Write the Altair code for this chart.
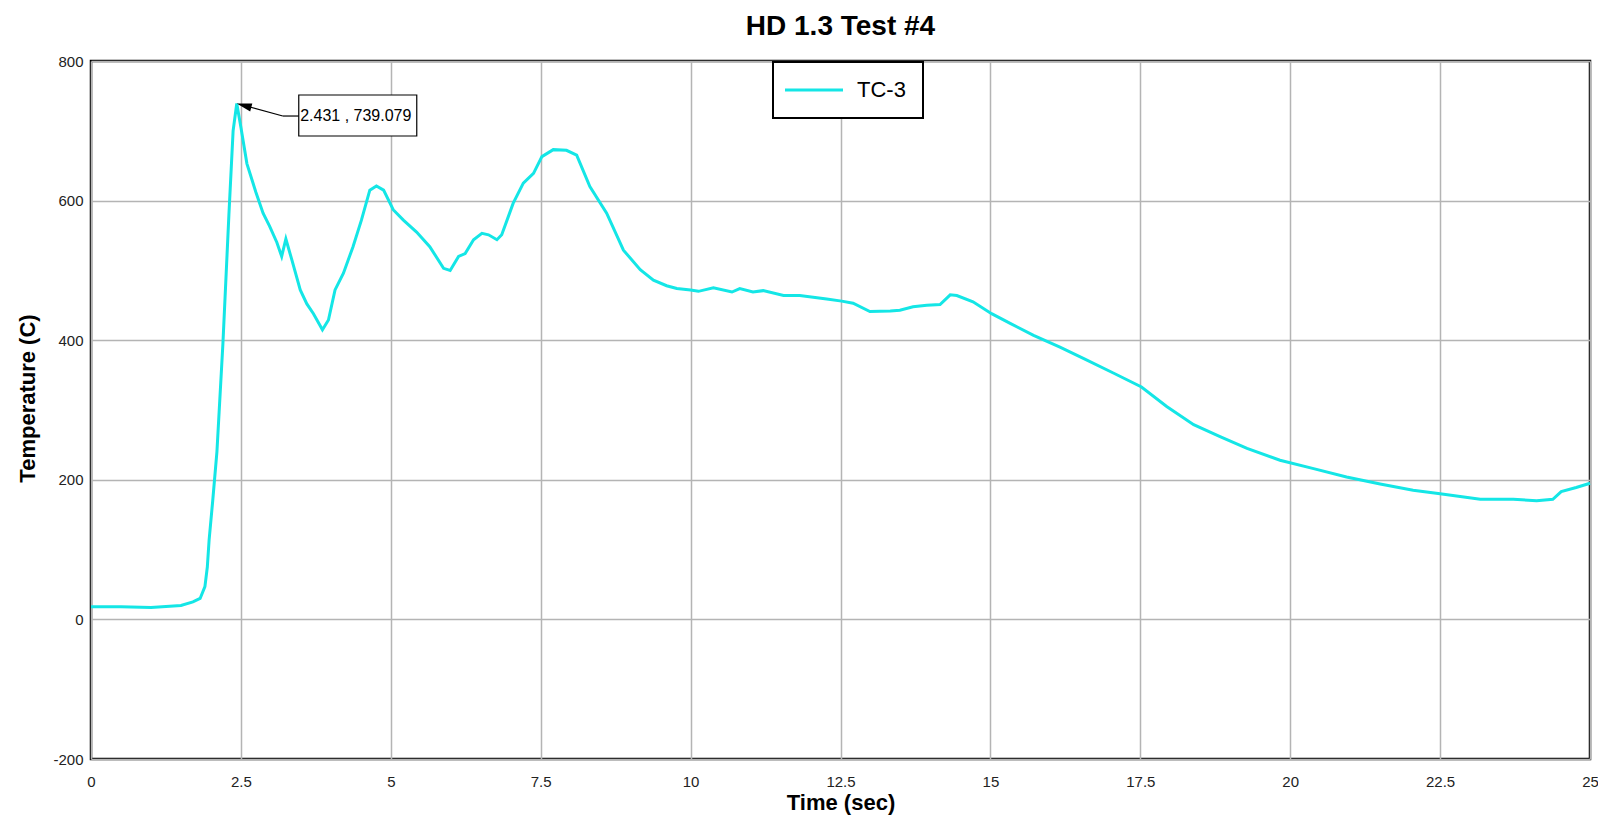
import altair as alt
import pandas as pd

# ---- data ----
time_sec = [0, 0.5, 1.0, 1.5, 1.7, 1.82, 1.9, 1.94, 1.97, 2.03, 2.1, 2.2, 2.3, 2.37, 2.431,
            2.5, 2.6, 2.75, 2.87, 2.98, 3.1, 3.18, 3.25, 3.35, 3.49, 3.6, 3.71, 3.86, 3.96,
            4.07, 4.21, 4.37, 4.51, 4.65, 4.76, 4.88, 5.04, 5.21, 5.43, 5.65, 5.88, 5.99,
            6.13, 6.24, 6.38, 6.52, 6.63, 6.77, 6.85, 7.04, 7.21, 7.38, 7.52, 7.71, 7.93,
            8.1, 8.32, 8.6, 8.88, 9.16, 9.38, 9.6, 9.77, 10.0, 10.13, 10.38, 10.69, 10.82,
            11.04, 11.21, 11.55, 11.82, 12.27, 12.52, 12.71, 12.99, 13.33, 13.49, 13.71,
            13.94, 14.16, 14.33, 14.44, 14.71, 15.02, 15.33, 15.72, 16.16, 16.55, 17.05,
            17.52, 17.94, 18.39, 18.83, 19.28, 19.83, 20.39, 20.94, 21.5, 22.05, 22.5,
            23.17, 23.72, 24.11, 24.38, 24.52, 24.77, 25.0]
temp_c = [18, 18, 17, 20, 25, 30, 47, 75, 114, 170, 240, 395, 580, 700, 739.079,
          705, 653, 612, 582, 563, 540, 520, 545, 515, 472, 452, 438, 415, 429,
          472, 496, 534, 572, 615, 621, 615, 587, 572, 555, 534, 503, 500,
          520, 524, 544, 553, 551, 544, 551, 596, 625, 639, 663, 673, 672,
          665, 620, 582, 529, 501, 486, 478, 474, 472, 470, 475, 469, 474,
          469, 471, 464, 464, 459, 456, 453, 441, 442, 443, 448,
          450, 451, 465, 464, 455, 438, 424, 407, 390, 374, 353,
          333, 305, 279, 262, 245, 228, 216, 204, 194, 185, 180,
          172, 172, 170, 172, 183, 189, 195]
series_name = ["TC-3"]
peak_time = [2.431]
peak_temp = [739.079]
peak_label = ["2.431 , 739.079"]
x_ticks = [0, 2.5, 5, 7.5, 10, 12.5, 15, 17.5, 20, 22.5, 25]
y_ticks = [-200, 0, 200, 400, 600, 800]

df = pd.DataFrame({"time": time_sec, "temp": temp_c,
                   "series": series_name * len(time_sec)})
peak = pd.DataFrame({"time": peak_time, "temp": peak_temp, "label": peak_label})

FONT = "Liberation Sans"
CYAN = "#14e6e6"
GRID = "#b4b4b4"

X = alt.X("time:Q",
          scale=alt.Scale(domain=[0, 25], nice=False, zero=False),
          axis=alt.Axis(values=x_ticks, title="Time (sec)", labelExpr="'' + datum.value",
                        labelPadding=15, labelFontSize=15, labelFlush=False,
                        labelOverlap=False, titleY=50, titleBaseline="alphabetic"))
Y = alt.Y("temp:Q",
          scale=alt.Scale(domain=[-200, 800], nice=False, zero=False),
          axis=alt.Axis(values=y_ticks, title="Temperature (C)", labelExpr="'' + datum.value",
                        labelPadding=8, labelFontSize=15, labelFlush=False,
                        labelOverlap=False, titleX=-57, titleY=337,
                        titleBaseline="alphabetic"))

line = alt.Chart(df).mark_line(strokeWidth=3).encode(
    x=X, y=Y,
    color=alt.Color("series:N",
                    scale=alt.Scale(domain=series_name, range=[CYAN]),
                    legend=alt.Legend(title=None, orient="none", legendX=682, legendY=1,
                                      padding=17, strokeColor="black", fillColor="white",
                                      symbolType="M-2,0H5.25", symbolSize=256,
                                      symbolStrokeWidth=3, labelFontSize=22,
                                      labelOffset=45, labelFont=FONT, labelColor="black")),
)

box = alt.Chart(peak).mark_rect(
    xOffset=62, x2Offset=180, yOffset=-8.5, y2Offset=32.5,
    fill="white", stroke="black", strokeWidth=1.2
).encode(x=X, x2="time:Q", y=Y, y2="temp:Q")

rule_h = alt.Chart(peak).mark_rule(
    xOffset=46, x2Offset=62, yOffset=12.5, y2Offset=12.5, color="black", strokeWidth=1.2
).encode(x=X, x2="time:Q", y=Y, y2="temp:Q")

rule_d = alt.Chart(peak).mark_rule(
    xOffset=10, x2Offset=46, yOffset=2.7, y2Offset=12.5, color="black", strokeWidth=1.2
).encode(x=X, x2="time:Q", y=Y, y2="temp:Q")

arrow = alt.Chart(peak).mark_point(
    shape="M0,0L2,-0.55L2,0.55Z", size=225, angle=15, filled=True,
    color="black", opacity=1, strokeWidth=0
).encode(x=X, y=Y)

label = alt.Chart(peak).mark_text(
    dx=119, dy=12.5, align="center", baseline="middle", fontSize=16,
    font=FONT, color="black"
).encode(x=X, y=Y, text="label:N")

chart = alt.layer(line, box, rule_h, rule_d, arrow, label).properties(
    width=1499, height=698,
    title=alt.TitleParams("HD 1.3 Test #4", font=FONT, fontSize=28, fontWeight="bold",
                          color="black", anchor="middle", offset=-9,
                          baseline="alphabetic"),
    autosize=alt.AutoSizeParams(type="none"),
    padding={"left": 83, "top": 53, "right": 8, "bottom": 58},
).configure_view(
    stroke="black", strokeWidth=2.5
).configure_axis(
    grid=True, gridColor=GRID, gridWidth=1.5, domain=False, ticks=False,
    labelFont=FONT, labelColor="#222222", titleFont=FONT, titleFontSize=22,
    titleFontWeight="bold", titleColor="black"
).configure_legend(
    strokeWidth=2
)

chart.save("out.html", embed_options={"renderer": "svg", "actions": False})
